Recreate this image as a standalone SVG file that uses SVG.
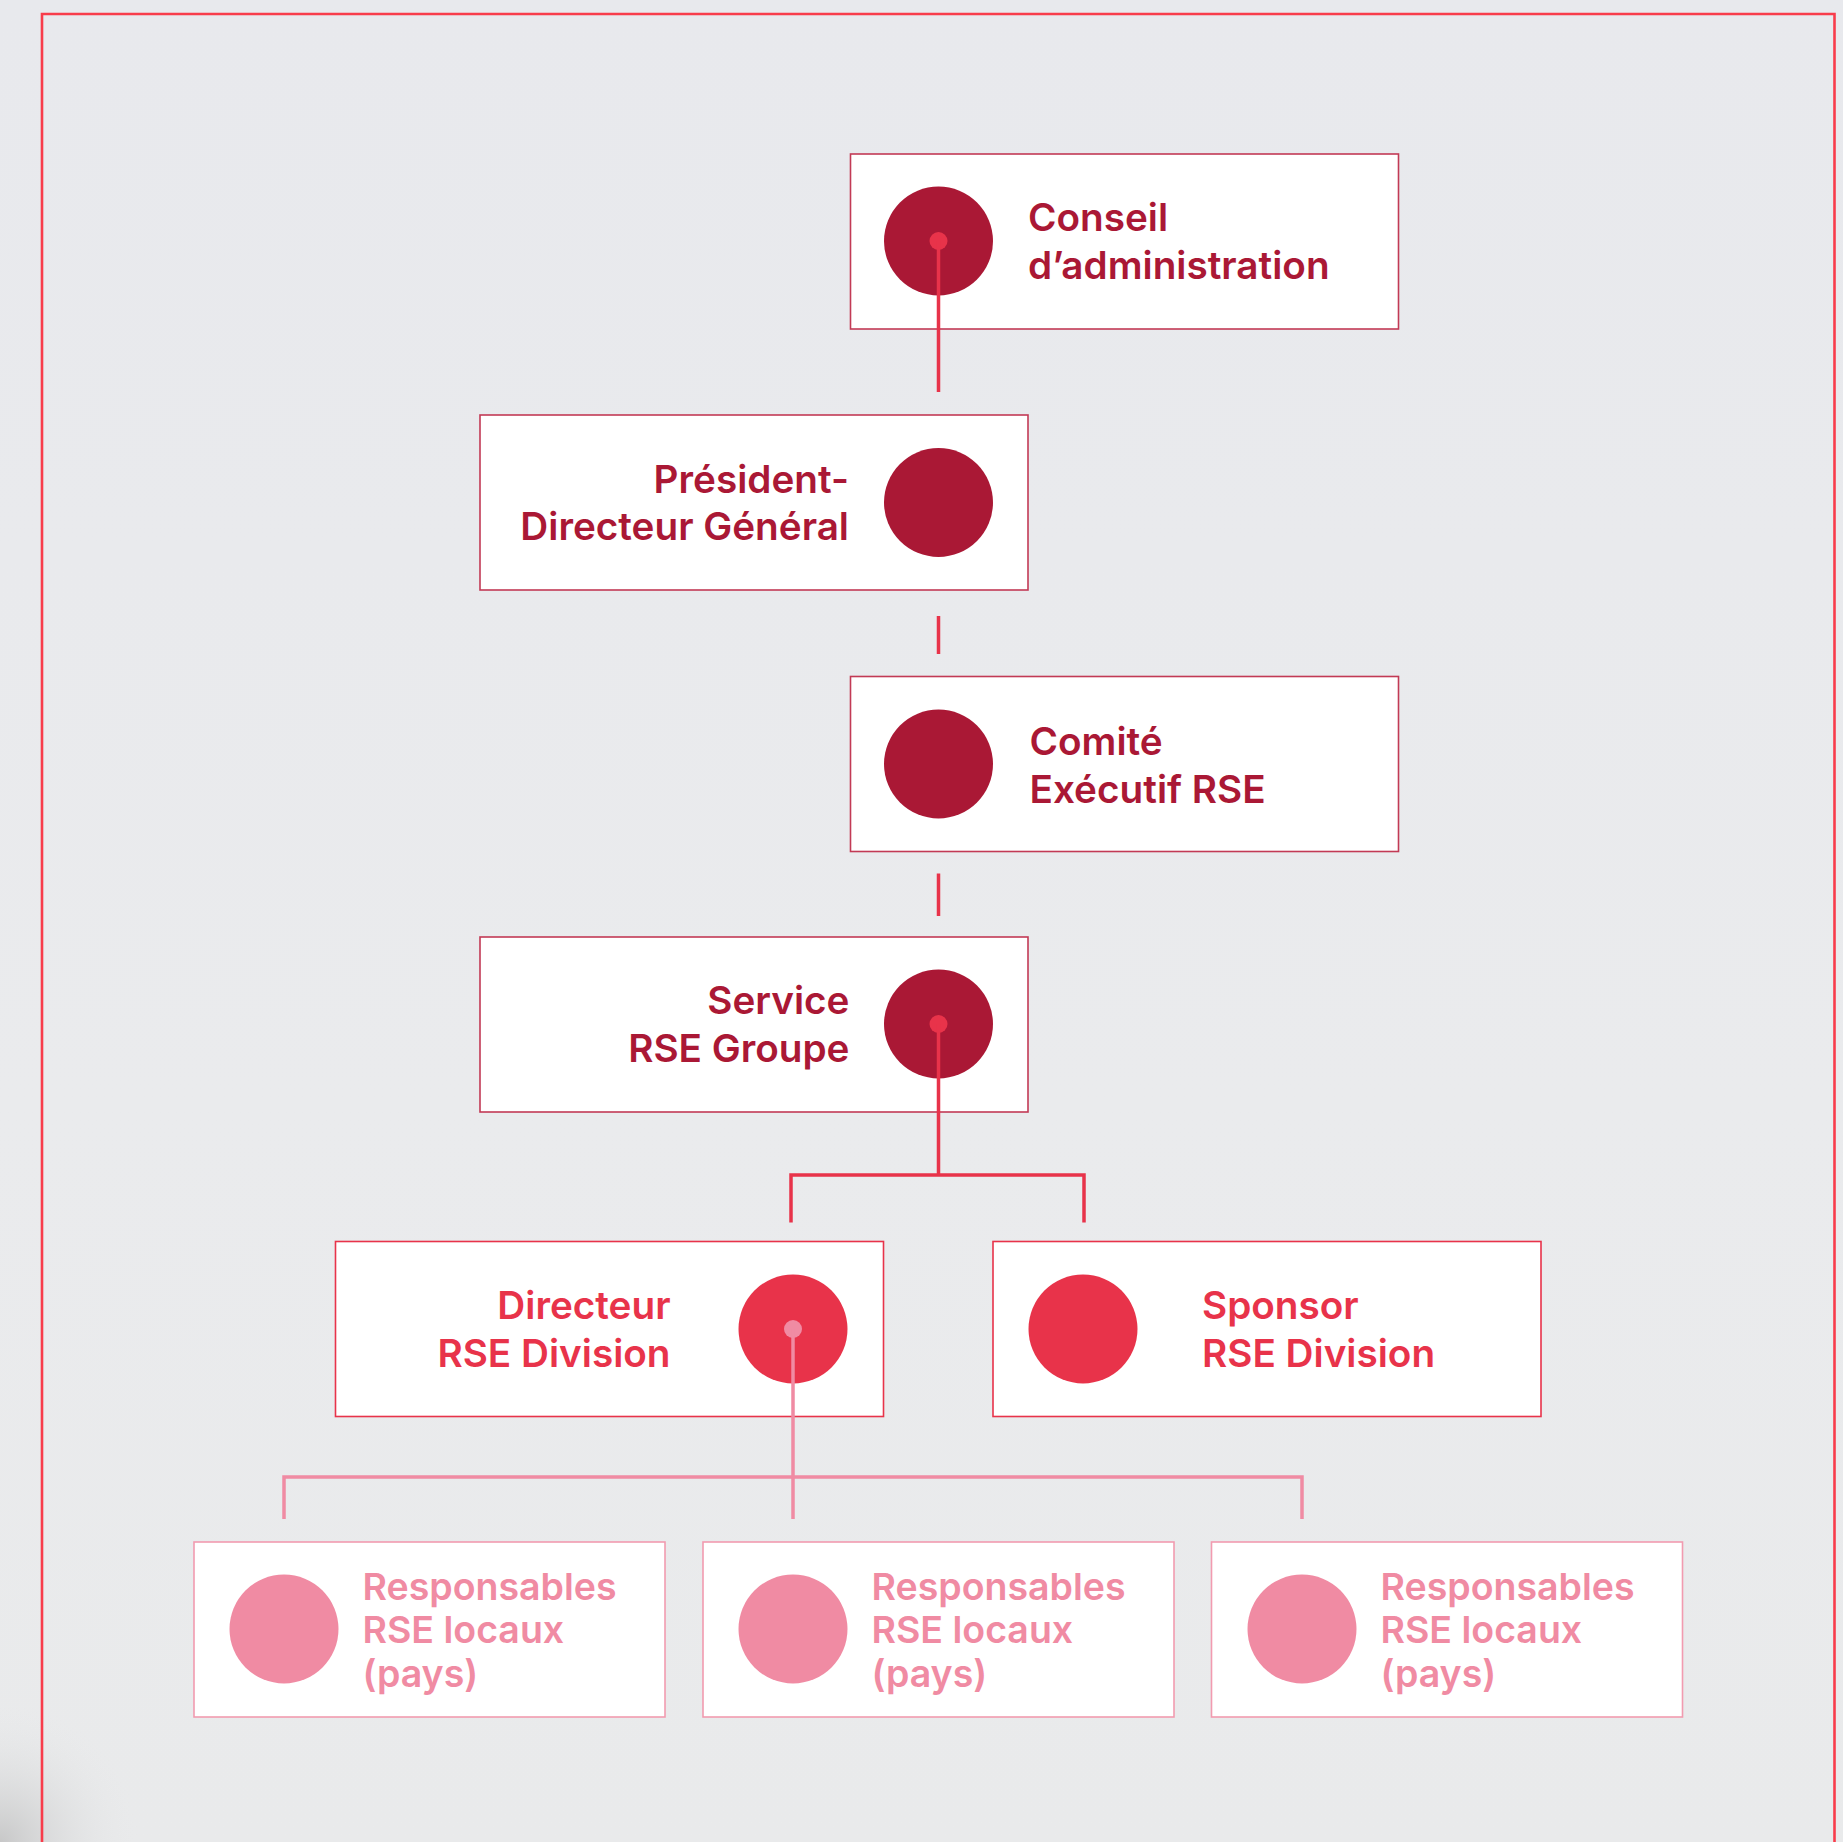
<svg xmlns="http://www.w3.org/2000/svg" width="1843" height="1842" viewBox="0 0 1843 1842">
<defs>
<linearGradient id="bg" x1="0" y1="0" x2="0" y2="1">
<stop offset="0" stop-color="#e8e9ed"/>
<stop offset="0.6" stop-color="#eaebed"/>
<stop offset="1" stop-color="#e9eaeb"/>
</linearGradient>
<radialGradient id="smudge" cx="0" cy="1842" r="140" gradientUnits="userSpaceOnUse">
<stop offset="0" stop-color="#b9b9b9" stop-opacity="0.7"/>
<stop offset="1" stop-color="#e9eaeb" stop-opacity="0"/>
</radialGradient>
</defs>
<style>
.box{fill:#ffffff;stroke-width:1.6}
.b1{stroke:#c23a55}
.b2{stroke:#e8334a}
.b3{stroke:#f29bb0}
.t{font-family:Inter,"Noto Sans","Liberation Sans",sans-serif;font-weight:600;font-size:38.7px}
.s{font-size:37.5px}
.c1{fill:#aa1835}
.c2{fill:#e8334a}
.c3{fill:#f08ba3}
.end{text-anchor:end}
.ln{fill:none;stroke-width:3.5}
.red{stroke:#e8334a}
.pink{stroke:#f08ba3}
</style>
<rect x="0" y="0" width="1843" height="1842" fill="url(#bg)"/>
<rect x="0" y="1700" width="200" height="142" fill="url(#smudge)"/>
<path d="M42,1842 V14 H1834.5 V1842" fill="none" stroke="#f83c4b" stroke-width="2.6"/>

<g id="conseil">
<rect class="box b1" x="850.5" y="154" width="548" height="175"/>
<circle class="c1" cx="938.5" cy="241" r="54.5"/>
<text class="t c1" x="1028" y="231">Conseil</text>
<text class="t c1" x="1028" y="278.5">d’administration</text>
</g>
<g id="pdg">
<rect class="box b1" x="480" y="415" width="548" height="175"/>
<circle class="c1" cx="938.5" cy="502.5" r="54.5"/>
<text class="t c1 end" x="849" y="492.5">Président-</text>
<text class="t c1 end" x="849" y="540">Directeur Général</text>
</g>
<g id="comite">
<rect class="box b1" x="850.5" y="676.5" width="548" height="175"/>
<circle class="c1" cx="938.5" cy="764" r="54.5"/>
<text class="t c1" x="1029.5" y="754.5">Comité</text>
<text class="t c1" x="1029.5" y="802.5">Exécutif RSE</text>
</g>
<g id="service">
<rect class="box b1" x="480" y="937" width="548" height="175"/>
<circle class="c1" cx="938.5" cy="1024" r="54.5"/>
<text class="t c1 end" x="849.5" y="1014">Service</text>
<text class="t c1 end" x="849.5" y="1062">RSE Groupe</text>
</g>
<g id="directeur">
<rect class="box b2" x="335.5" y="1241.5" width="548" height="175"/>
<circle class="c2" cx="793" cy="1329" r="54.5"/>
<text class="t c2 end" x="670.5" y="1319">Directeur</text>
<text class="t c2 end" x="670.5" y="1366.5">RSE Division</text>
</g>
<g id="sponsor">
<rect class="box b2" x="993" y="1241.5" width="548" height="175"/>
<circle class="c2" cx="1083" cy="1329" r="54.5"/>
<text class="t c2" x="1202" y="1319">Sponsor</text>
<text class="t c2" x="1202" y="1366.5">RSE Division</text>
</g>
<g id="resp1">
<rect class="box b3" x="194" y="1542" width="471" height="175"/>
<circle class="c3" cx="284" cy="1629" r="54.5"/>
<text class="t s c3" x="362.5" y="1600">Responsables</text>
<text class="t s c3" x="362.5" y="1643.3">RSE locaux</text>
<text class="t s c3" x="362.5" y="1686.6">(pays)</text>
</g>
<g id="resp2">
<rect class="box b3" x="703" y="1542" width="471" height="175"/>
<circle class="c3" cx="793" cy="1629" r="54.5"/>
<text class="t s c3" x="871.5" y="1600">Responsables</text>
<text class="t s c3" x="871.5" y="1643.3">RSE locaux</text>
<text class="t s c3" x="871.5" y="1686.6">(pays)</text>
</g>
<g id="resp3">
<rect class="box b3" x="1211.5" y="1542" width="471" height="175"/>
<circle class="c3" cx="1302" cy="1629" r="54.5"/>
<text class="t s c3" x="1380.5" y="1600">Responsables</text>
<text class="t s c3" x="1380.5" y="1643.3">RSE locaux</text>
<text class="t s c3" x="1380.5" y="1686.6">(pays)</text>
</g>

<g id="connectors">
<circle cx="938.5" cy="241" r="9" fill="#e8334a"/>
<path class="ln red" d="M938.5,241 V392"/>
<path class="ln red" d="M938.5,616 V654"/>
<path class="ln red" d="M938.5,873.5 V916"/>
<circle cx="938.5" cy="1024" r="9" fill="#e8334a"/>
<path class="ln red" d="M938.5,1024 V1175 M791,1222.5 V1175 H1084 V1222.5"/>
<circle cx="793" cy="1329" r="9" fill="#f08ba3"/>
<path class="ln pink" d="M793,1329 V1519 M284,1519 V1477 H1302 V1519"/>
</g>
</svg>
